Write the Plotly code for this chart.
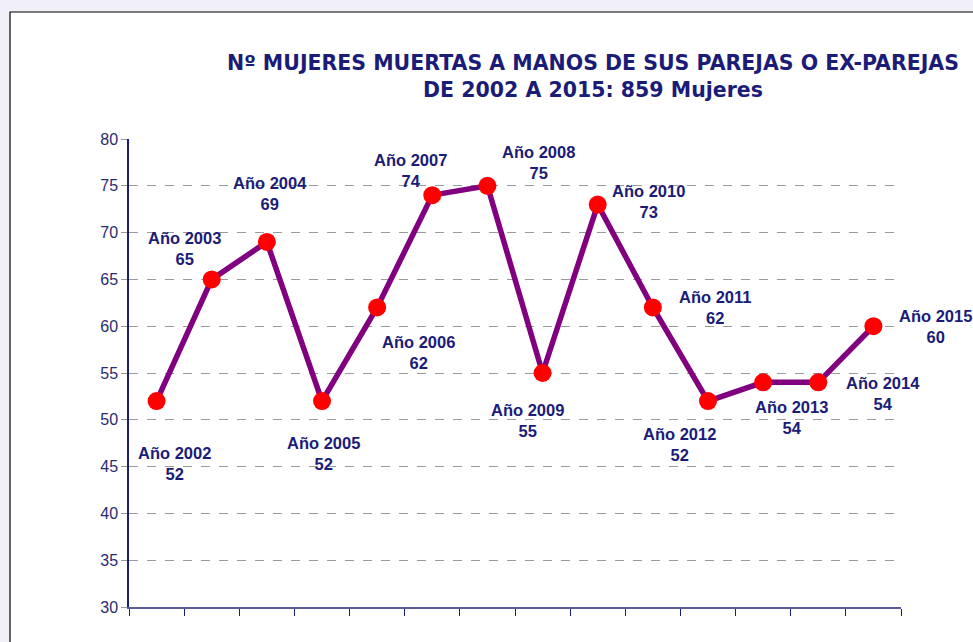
import plotly.graph_objects as go

years = ["2002", "2003", "2004", "2005", "2006", "2007", "2008",
         "2009", "2010", "2011", "2012", "2013", "2014", "2015"]
victims = [52, 65, 69, 52, 62, 74, 75, 55, 73, 62, 52, 54, 54, 60]
y_ticks = [30, 35, 40, 45, 50, 55, 60, 65, 70, 75, 80]

title_lines = ["Nº MUJERES MUERTAS A MANOS DE SUS PAREJAS O EX-PAREJAS",
               "DE 2002 A 2015: 859 Mujeres"]

# label offsets in pixels (dx right, dy down) relative to each point
label_offsets = [(18, 62), (-27, -31), (3, -48), (1, 52), (41, 45),
                 (-22, -25), (51, -23), (-15, 47), (51, -3), (62, 0),
                 (-29, 43), (28, 35), (65, 11), (62, 0)]

NAVY = "#1b1b78"
xs = list(range(len(years)))

fig = go.Figure()
fig.add_trace(go.Scatter(
    x=xs, y=victims, mode="lines+markers",
    line=dict(color="#800080", width=5.5),
    marker=dict(color="#ff0000", size=18, line=dict(width=0)),
    cliponaxis=False, hoverinfo="skip", showlegend=False,
))

annotations = []
for i, (yr, v) in enumerate(zip(years, victims)):
    dx, dy = label_offsets[i]
    annotations.append(dict(
        x=xs[i], y=v, xref="x", yref="y",
        text=f"<b>Año {yr}</b><br><b>{v}</b>", showarrow=False,
        xshift=dx, yshift=-dy, align="center",
        font=dict(family="Liberation Sans, Arial", size=16.5, color=NAVY),
    ))

W, H = 973, 642
ml, mr, mt, mb = 129, 72, 139, 35
pw, ph = W - ml - mr, H - mt - mb

def px_to_paper_x(px):
    return (px - ml) / pw

def px_to_paper_y(py):
    return (H - mb - py) / ph

fig.add_shape(type="rect", xref="paper", yref="paper",
              x0=px_to_paper_x(10), x1=px_to_paper_x(985),
              y0=px_to_paper_y(660), y1=px_to_paper_y(12),
              fillcolor="white", line=dict(color="black", width=1.2),
              layer="below")

annotations.append(dict(
    x=px_to_paper_x(593), y=px_to_paper_y(76), xref="paper", yref="paper",
    text="<br>".join(f"<b>{t}</b>" for t in title_lines),
    showarrow=False, align="center", xanchor="center", yanchor="middle",
    font=dict(family="DejaVu Sans", size=20.5, color=NAVY),
))

fig.update_layout(
    width=W, height=H,
    margin=dict(l=ml, r=mr, t=mt, b=mb),
    paper_bgcolor="#f1f0f8", plot_bgcolor="white",
    annotations=annotations,
    xaxis=dict(
        range=[-0.5, len(years) - 0.5],
        tickmode="array",
        tickvals=[i - 0.5 for i in range(len(years) + 1)],
        ticktext=[""] * (len(years) + 1),
        ticks="outside", ticklen=7, tickcolor=NAVY, tickwidth=1,
        showgrid=False, zeroline=False,
        showline=True, linecolor="#5a5a9a", linewidth=1.5,
    ),
    yaxis=dict(
        range=[30, 80], tickmode="array", tickvals=y_ticks,
        ticks="outside", ticklen=6, tickcolor="#999999",
        showgrid=True, gridcolor="#9a9a9a", griddash="dash", gridwidth=1,
        zeroline=False, showline=True, linecolor=NAVY, linewidth=1.5,
        tickfont=dict(family="Liberation Sans, Arial", size=16, color="#2b2b70"),
    ),
)

fig.write_html(
    "out.html",
    config={"displayModeBar": False},
    post_script="document.body.style.margin='0';document.body.style.overflow='hidden';",
)
